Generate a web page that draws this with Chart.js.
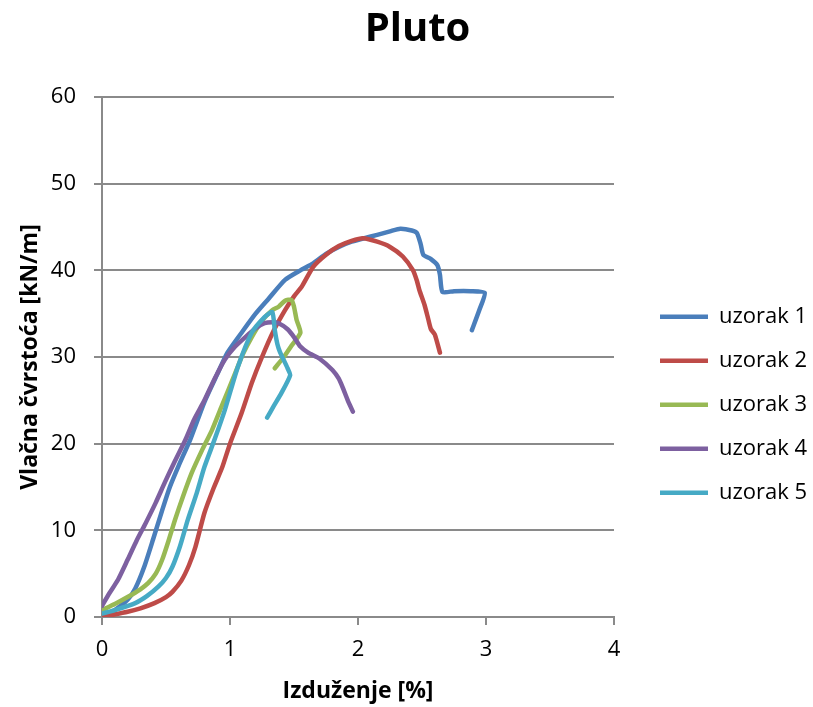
<!DOCTYPE html>
<html>
<head>
<meta charset="utf-8">
<title>Pluto</title>
<script src="https://cdn.jsdelivr.net/npm/chart.js@4"></script>
<style>
    html, body { margin: 0; padding: 0; background: #fff; }
    #wrap { width: 813px; height: 707px; }
</style>
</head>
<body>
<div id="wrap"><canvas id="chart1"></canvas></div>
<script>
// values: elongation [%] and tensile strength [kN/m]
const labels = ['uzorak 1', 'uzorak 2', 'uzorak 3', 'uzorak 4', 'uzorak 5'];
const colors = ['#4a7ebb', '#be4b48', '#98b954', '#7d60a0', '#46aac5'];

const u1x = [0, 0.1, 0.2, 0.26, 0.33, 0.4, 0.47, 0.53, 0.6, 0.69, 0.8, 0.9, 0.98, 1.1, 1.2, 1.3, 1.43, 1.55, 1.65, 1.75, 1.85, 1.95, 2.05, 2.15, 2.25, 2.33, 2.42, 2.46, 2.49, 2.51, 2.57, 2.62, 2.64, 2.66, 2.75, 2.88, 2.99, 2.95, 2.89];
const u1y = [0, 0.8, 2.0, 3.3, 5.8, 9, 12.3, 15, 17.5, 20.5, 24.8, 28, 30.5, 33, 35, 36.7, 38.9, 40, 40.8, 41.9, 42.7, 43.3, 43.7, 44.1, 44.5, 44.8, 44.6, 44.3, 43, 41.8, 41.3, 40.6, 39.5, 37.5, 37.6, 37.6, 37.4, 35.5, 33.1];

const u2x = [0, 0.2, 0.3, 0.41, 0.5, 0.55, 0.62, 0.68, 0.73, 0.8, 0.87, 0.94, 1.0, 1.09, 1.17, 1.25, 1.34, 1.43, 1.5, 1.56, 1.65, 1.75, 1.85, 1.95, 2.04, 2.15, 2.25, 2.35, 2.43, 2.46, 2.48, 2.52, 2.55, 2.57, 2.6, 2.64];
const u2y = [0, 0.6, 1.0, 1.6, 2.3, 2.9, 4.2, 6, 8.1, 12, 14.8, 17.3, 20, 23.5, 27, 30, 33, 35.4, 37, 38.1, 40.4, 41.8, 42.8, 43.4, 43.7, 43.3, 42.7, 41.6, 40, 38.8, 37.7, 36, 34.3, 33.2, 32.6, 30.5];

const u3x = [0, 0.1, 0.2, 0.3, 0.36, 0.42, 0.47, 0.52, 0.57, 0.63, 0.7, 0.78, 0.86, 0.94, 1.04, 1.1, 1.17, 1.25, 1.33, 1.38, 1.43, 1.48, 1.5, 1.52, 1.55, 1.48, 1.42, 1.35];
const u3y = [0.8, 1.5, 2.3, 3.2, 3.9, 5, 6.6, 8.8, 11.2, 13.8, 16.6, 19.2, 21.6, 24.5, 28.1, 30.3, 32.3, 34.2, 35.4, 35.8, 36.5, 36.6, 35.8, 34.3, 32.8, 31.3, 30, 28.7];

const u4x = [0, 0.06, 0.125, 0.2, 0.27, 0.34, 0.42, 0.49, 0.57, 0.65, 0.72, 0.8, 0.88, 0.96, 1.04, 1.12, 1.2, 1.27, 1.33, 1.38, 1.45, 1.5, 1.55, 1.61, 1.7, 1.8, 1.85, 1.88, 1.92, 1.96];
const u4y = [1.3, 2.8, 4.3, 6.6, 8.8, 10.8, 13.2, 15.5, 18, 20.4, 22.8, 25, 27.5, 29.7, 31.2, 32.3, 33.3, 33.9, 34, 33.9, 33.2, 32.3, 31.2, 30.5, 29.8, 28.5, 27.5, 26.5, 25, 23.7];

const u5x = [0, 0.1, 0.26, 0.35, 0.44, 0.5, 0.55, 0.61, 0.67, 0.74, 0.8, 0.88, 0.96, 1.06, 1.17, 1.27, 1.33, 1.35, 1.37, 1.39, 1.45, 1.47, 1.4, 1.34, 1.29];
const u5y = [0.4, 0.8, 1.6, 2.4, 3.5, 4.5, 5.8, 8.2, 11.2, 14.3, 17.3, 20.5, 23.9, 28.8, 32.8, 34.6, 35.2, 33.1, 31.5, 30.6, 28.7, 27.9, 25.8, 24.3, 23];

const xTicks = [0, 1, 2, 3, 4];
const yTicks = [0, 10, 20, 30, 40, 50, 60];

const seriesX = [u1x, u2x, u3x, u4x, u5x];
const seriesY = [u1y, u2y, u3y, u4y, u5y];

Chart.defaults.font.family = "'Open Sans', sans-serif";
Chart.defaults.color = '#000';

const gridColor = '#8a8a8a';

const datasets = labels.map((label, i) => ({
    label: label,
    data: seriesX[i].map((x, j) => ({ x: x, y: seriesY[i][j] })),
    borderColor: colors[i],
    backgroundColor: colors[i],
    borderWidth: 4.5,
    borderCapStyle: 'round',
    borderJoinStyle: 'round',
    pointRadius: 0,
    pointHoverRadius: 0,
    showLine: true,
    tension: 0.2,
    order: labels.length - i   // last series on top, like the original
}));

const chart1 = new Chart(document.getElementById('chart1').getContext('2d'), {
    type: 'scatter',
    data: { datasets: datasets },
    options: {
        responsive: true,
        maintainAspectRatio: false,
        animation: false,
        layout: { padding: { left: 22, right: 0, top: 0, bottom: 0 } },
        plugins: {
            tooltip: { enabled: false },
            title: {
                display: true,
                text: 'Pluto',
                font: { size: 40, weight: 'bold' },
                padding: { top: 6, bottom: 43 }
            },
            legend: {
                position: 'right',
                align: 'center',
                maxWidth: 175,
                title: { display: true, text: '', font: { size: 12, lineHeight: 1 }, padding: { top: 90.5, bottom: 0 } },
                labels: {
                    usePointStyle: true,
                    pointStyle: 'line',
                    pointStyleWidth: 48,
                    padding: 22,
                    font: { size: 22 },
                    sort: (a, b) => a.datasetIndex - b.datasetIndex
                }
            }
        },
        scales: {
            x: {
                type: 'linear',
                min: 0,
                max: 4,
                afterBuildTicks: (s) => { s.ticks = xTicks.map(v => ({ value: v })); },
                afterFit: (s) => { s.height = 90; },
                ticks: { font: { size: 22 }, padding: 12 },
                grid: { display: true, drawOnChartArea: false, drawTicks: true, tickLength: 8, color: gridColor, lineWidth: 2 },
                border: { display: true, color: gridColor, width: 2 },
                title: {
                    display: true,
                    text: 'Izduženje [%]',
                    font: { size: 23, weight: 'bold', lineHeight: 1 },
                    padding: { top: 16, bottom: 4.5 }
                }
            },
            y: {
                type: 'linear',
                min: 0,
                max: 60,
                afterBuildTicks: (s) => { s.ticks = yTicks.map(v => ({ value: v })); },
                afterFit: (s) => { s.width = 80; },
                ticks: { font: { size: 22 }, padding: 18 },
                grid: { color: gridColor, lineWidth: 2, tickLength: 8 },
                border: { display: true, color: gridColor, width: 2 },
                title: {
                    display: true,
                    text: 'Vlačna čvrstoća [kN/m]',
                    font: { size: 23, weight: 'bold', lineHeight: 1 },
                    padding: { top: -3, bottom: 9 }
                }
            },
            gap: {
                type: 'linear',
                position: 'right',
                display: true,
                afterFit: (s) => { s.width = 24; },
                ticks: { display: false },
                grid: { display: false },
                border: { display: false }
            }
        }
    }
});
</script>
</body>
</html>
